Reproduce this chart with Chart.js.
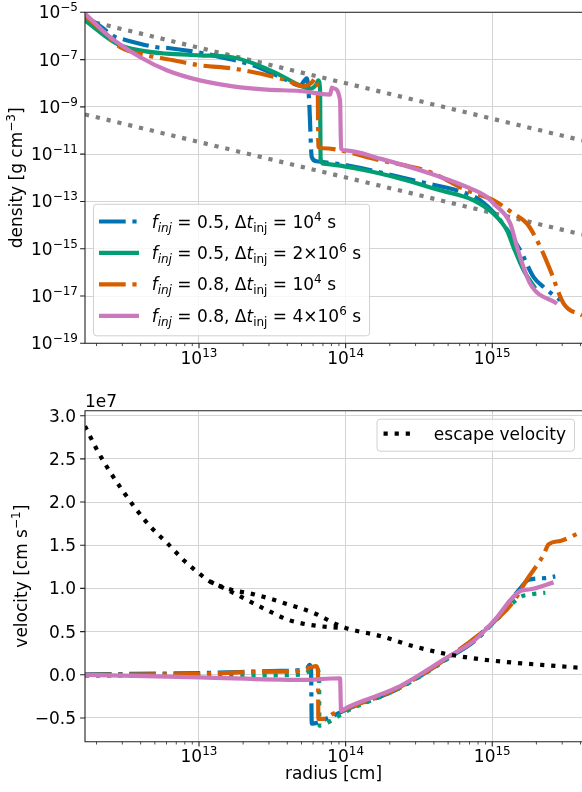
<!DOCTYPE html>
<html>
<head>
<meta charset="utf-8">
<script src="https://cdn.jsdelivr.net/npm/chart.js@4.4.0/dist/chart.umd.min.js"></script>
<style>
  html, body { margin: 0; padding: 0; background: #fff; overflow: hidden; }
  #wrap { position: relative; width: 582px; height: 792px; }
  canvas { position: absolute; left: 0; }
  #density { top: 0; }
  #velocity { top: 380px; }
</style>
</head>
<body>
<div id="wrap">
  <canvas id="density" width="582" height="380"></canvas>
  <canvas id="velocity" width="582" height="412"></canvas>
</div>
<script>
// ---- data (log10 of radius in cm) ----
const xMajor = [13, 14, 15];
const densTickExp = [-5, -7, -9, -11, -13, -15, -17, -19];
const velTicks = [-0.5, 0.0, 0.5, 1.0, 1.5, 2.0, 2.5, 3.0]; // x 1e7

const legendF = ["0.5", "0.5", "0.8", "0.8"];
const legendDtMant = ["", "2", "", "4"];
const legendDtExp = ["4", "6", "4", "6"];

// density panel: log10 rho [g cm^-3]
const dens1R = [12.222, 12.304, 12.427, 12.481, 12.713, 12.802, 13.027, 13.189, 13.369, 13.573, 13.689, 13.735, 13.751, 13.769, 13.80, 14.008, 14.463, 14.827, 14.918, 15.055, 15.191, 15.282, 15.350, 15.464];
const dens1 = [-5.20, -5.48, -6.04, -6.14, -6.48, -6.52, -6.73, -6.95, -7.24, -7.79, -8.10, -7.79, -8.72, -11.12, -11.30, -11.47, -12.11, -12.67, -12.95, -13.80, -15.07, -16.20, -16.62, -17.18];

const dens2R = [12.222, 12.438, 12.597, 12.780, 13.007, 13.234, 13.371, 13.530, 13.689, 13.758, 13.80, 13.814, 13.826, 13.829, 13.848, 14.235, 14.645, 14.872, 15.009, 15.100, 15.145, 15.214, 15.294];
const dens2 = [-5.34, -6.32, -6.61, -6.75, -6.82, -6.91, -7.16, -7.58, -8.09, -8.23, -8.05, -7.88, -8.30, -11.18, -11.40, -11.82, -12.53, -12.95, -13.52, -14.22, -14.93, -15.91, -16.68];

const dens3R = [12.222, 12.324, 12.461, 12.643, 12.825, 13.007, 13.234, 13.416, 13.599, 13.712, 13.77, 13.792, 13.810, 13.814, 13.840, 14.235, 14.577, 14.827, 15.009, 15.146, 15.237, 15.328, 15.396, 15.487, 15.614];
const dens3 = [-5.15, -5.69, -6.47, -6.82, -7.03, -7.24, -7.38, -7.59, -7.88, -8.13, -7.96, -7.80, -8.21, -10.70, -10.75, -11.26, -11.76, -12.53, -12.95, -13.52, -13.94, -14.93, -15.91, -17.32, -17.82];

const dens4R = [12.222, 12.392, 12.597, 12.780, 13.007, 13.232, 13.462, 13.689, 13.894, 13.906, 13.92, 13.962, 13.969, 13.997, 14.235, 14.577, 14.827, 14.964, 15.009, 15.123, 15.169, 15.259, 15.442];
const dens4 = [-5.05, -6.04, -6.89, -7.45, -7.88, -8.13, -8.27, -8.33, -8.48, -8.19, -8.22, -8.72, -10.77, -10.84, -11.19, -11.82, -12.39, -12.81, -13.09, -13.94, -14.93, -16.48, -17.32];

const guideR = [12.2226, 15.612];
const guideUpper = [-5.33, -10.42];
const guideLower = [-9.32, -14.40];

// velocity panel: v / 1e7 [cm s^-1]
const vel1R = [12.222, 13.007, 13.553, 13.735, 13.754, 13.764, 13.769, 13.894, 14.008, 14.349, 14.691, 14.872, 15.009, 15.191, 15.248, 15.362, 15.430];
const vel1 = [0.005, 0.02, 0.045, 0.07, 0.115, 0.07, -0.565, -0.49, -0.40, -0.17, 0.185, 0.38, 0.61, 1.0, 1.10, 1.12, 1.14];

const vel2R = [12.222, 13.007, 13.689, 13.805, 13.819, 13.821, 13.881, 14.008, 14.349, 14.691, 15.009, 15.191, 15.259, 15.362];
const vel2 = [-0.01, -0.01, 0.0, 0.07, -0.01, -0.59, -0.55, -0.42, -0.17, 0.18, 0.605, 0.90, 0.93, 0.95];

const vel3R = [12.222, 13.007, 13.416, 13.689, 13.799, 13.812, 13.814, 13.848, 13.917, 14.008, 14.349, 14.691, 15.009, 15.146, 15.228, 15.350, 15.384, 15.464, 15.614];
const vel3 = [0.0, 0.01, 0.035, 0.046, 0.10, 0.035, -0.51, -0.51, -0.45, -0.39, -0.16, 0.19, 0.61, 0.85, 1.08, 1.39, 1.51, 1.55, 1.66];

const vel4R = [12.222, 13.007, 13.689, 13.962, 13.969, 14.008, 14.349, 14.691, 14.872, 15.009, 15.191, 15.259, 15.418];
const vel4 = [0.0, -0.03, -0.06, -0.04, -0.42, -0.38, -0.15, 0.20, 0.39, 0.62, 0.97, 0.99, 1.07];

const escAR = [12.2226, 12.306, 12.386, 12.476, 12.570, 12.672, 12.786, 12.900, 13.018, 13.075, 13.21, 13.38, 13.60, 13.79, 13.93, 14.003, 14.235, 14.463, 14.691, 14.918, 15.146, 15.373, 15.612];
const escA = [2.88, 2.60, 2.37, 2.14, 1.92, 1.71, 1.52, 1.32, 1.15, 1.08, 0.99, 0.93, 0.82, 0.71, 0.59, 0.54, 0.45, 0.33, 0.24, 0.18, 0.14, 0.11, 0.08];
const escBR = [13.075, 13.21, 13.45, 13.62, 13.79, 13.98];
const escB = [1.08, 0.97, 0.76, 0.63, 0.57, 0.54];

// ---- styles ----
const FONT = '"DejaVu Sans", sans-serif';
const BLUE = "#0173B2", GREEN = "#029E73", ORANGE = "#D55E00", PINK = "#CC78BC";
const LW = 4.2;
const DASHDOT = [26.7, 6.7, 4.2, 6.7];
const DOTTED = [4.2, 6.9];

const X_MIN = Math.pow(10, 12.2226);
const X_MAX = Math.pow(10, 15.612);

function pts(logr, vals, toY) {
  return logr.map((l, i) => ({ x: Math.pow(10, l), y: toY(vals[i]) }));
}
const fromLog = (v) => Math.pow(10, v);
const from1e7 = (v) => v * 1e7;

function line(data, color, dash, order, straight) {
  return {
    data: data, borderColor: color, borderWidth: LW, borderDash: dash || [],
    pointRadius: 0, tension: 0, fill: false, order: order,
    cubicInterpolationMode: straight ? "default" : "monotone",
    borderCapStyle: "butt", borderJoinStyle: "round", clip: 0
  };
}

// ---- rich text helpers ----
function fontOf(p) { return (p.i ? "italic " : "") + (p.s || 17) + "px " + FONT; }
function richWidth(ctx, parts) {
  let w = 0;
  parts.forEach((p) => { ctx.font = fontOf(p); w += ctx.measureText(p.t).width; });
  return w;
}
function drawRich(ctx, parts, x, y, align) {
  const w = richWidth(ctx, parts);
  let cx = align === "right" ? x - w : align === "center" ? x - w / 2 : x;
  parts.forEach((p) => {
    ctx.font = fontOf(p);
    ctx.fillText(p.t, cx, y + (p.dy || 0));
    cx += ctx.measureText(p.t).width;
  });
  return w;
}
function pow10(e) {
  return [{ t: "10" }, { t: String(e).replace("-", "\u2212"), s: 12, dy: -7 }];
}
function legendParts(i) {
  return [
    { t: "f", i: true }, { t: "inj", i: true, s: 12, dy: 4 },
    { t: " = " + legendF[i] + ", " }, { t: "\u0394" }, { t: "t", i: true }, { t: "inj", s: 12, dy: 4 },
    { t: " = " + (legendDtMant[i] ? legendDtMant[i] + "\u00d7" : "") + "10" },
    { t: legendDtExp[i], s: 12, dy: -7 }, { t: " s" }
  ];
}

// ---- axes decoration: spines, ticks, labels, titles, legend ----
const deco = {
  id: "deco",
  afterDraw(chart, args, o) {
    const ctx = chart.ctx, a = chart.chartArea, xs = chart.scales.x, ys = chart.scales.y;
    ctx.save();
    ctx.strokeStyle = "#222";
    ctx.lineWidth = 1.1;
    ctx.beginPath();
    ctx.moveTo(a.right, a.top); ctx.lineTo(a.left, a.top);
    ctx.lineTo(a.left, a.bottom); ctx.lineTo(a.right, a.bottom);
    ctx.stroke();

    // x ticks
    ctx.beginPath();
    xMajor.forEach((e) => {
      const px = xs.getPixelForValue(Math.pow(10, e));
      ctx.moveTo(px, a.bottom); ctx.lineTo(px, a.bottom + 4.9);
    });
    ctx.stroke();
    ctx.lineWidth = 0.8;
    ctx.beginPath();
    for (let n = 12; n <= 15; n++) {
      for (let k = 2; k <= 9; k++) {
        const v = k * Math.pow(10, n);
        if (v < X_MIN || v > X_MAX) continue;
        const px = xs.getPixelForValue(v);
        ctx.moveTo(px, a.bottom); ctx.lineTo(px, a.bottom + 2.8);
      }
    }
    ctx.stroke();

    // y ticks
    ctx.lineWidth = 1.1;
    ctx.beginPath();
    o.yValues.forEach((v) => {
      const py = ys.getPixelForValue(v);
      ctx.moveTo(a.left - 4.9, py); ctx.lineTo(a.left, py);
    });
    ctx.stroke();

    ctx.fillStyle = "#000";
    ctx.textBaseline = "alphabetic";
    xMajor.forEach((e) => {
      drawRich(ctx, pow10(e), xs.getPixelForValue(Math.pow(10, e)), a.bottom + 20.5, "center");
    });
    o.yValues.forEach((v, i) => {
      drawRich(ctx, o.yLabels[i], a.left - o.labelGap, ys.getPixelForValue(v) + 6, "right");
    });

    // y title
    ctx.save();
    ctx.translate(o.yTitleX, (a.top + a.bottom) / 2);
    ctx.rotate(-Math.PI / 2);
    drawRich(ctx, o.yTitle, 0, 0, "center");
    ctx.restore();

    if (o.xTitle) drawRich(ctx, o.xTitle, (a.left + a.right) / 2, a.bottom + 37.5, "center");
    if (o.offsetText) drawRich(ctx, [{ t: o.offsetText }], a.left, a.top - 3.5, "left");

    if (o.legend) o.legend(ctx, a);
    ctx.restore();
  }
};

function legendBox(ctx, x, y, w, h) {
  const r = 3;
  ctx.beginPath();
  ctx.moveTo(x + r, y); ctx.lineTo(x + w - r, y); ctx.arcTo(x + w, y, x + w, y + r, r);
  ctx.lineTo(x + w, y + h - r); ctx.arcTo(x + w, y + h, x + w - r, y + h, r);
  ctx.lineTo(x + r, y + h); ctx.arcTo(x, y + h, x, y + h - r, r);
  ctx.lineTo(x, y + r); ctx.arcTo(x, y, x + r, y, r);
  ctx.closePath();
  ctx.fillStyle = "rgba(255,255,255,0.8)";
  ctx.fill();
  ctx.strokeStyle = "#d0d0d0";
  ctx.lineWidth = 1;
  ctx.stroke();
}
function handle(ctx, x0, x1, y, color, dash) {
  ctx.save();
  ctx.strokeStyle = color; ctx.lineWidth = LW; ctx.lineCap = "butt";
  ctx.setLineDash(dash || []);
  ctx.beginPath(); ctx.moveTo(x0, y); ctx.lineTo(x1, y); ctx.stroke();
  ctx.restore();
}

const densLegend = (ctx, a) => {
  const colors = [BLUE, GREEN, ORANGE, PINK];
  const dashes = [DASHDOT, null, DASHDOT, null];
  let maxW = 0;
  for (let i = 0; i < 4; i++) maxW = Math.max(maxW, richWidth(ctx, legendParts(i)));
  const h = 131.5, x = a.left + 8, y = a.bottom - 8 - h;
  const w = 58.7 + maxW + 8;
  legendBox(ctx, x + 0.5, y + 0.5, w, h);
  ctx.fillStyle = "#000";
  for (let i = 0; i < 4; i++) {
    const cy = y + 17.7 + i * 31.45;
    handle(ctx, x + 6, x + 46, cy, colors[i], dashes[i]);
    drawRich(ctx, legendParts(i), x + 58.7, cy + 6, "left");
  }
};

const velLegend = (ctx, a) => {
  ctx.font = "17px " + FONT;
  const tw = ctx.measureText("escape velocity").width;
  const w = 57.3 + tw + 8, h = 32;
  const x = a.right - 8 - w, y = a.top + 8;
  legendBox(ctx, x + 0.5, y + 0.5, w, h);
  handle(ctx, x + 7, x + 37, y + 15, "#000", DOTTED);
  ctx.fillStyle = "#000";
  drawRich(ctx, [{ t: "escape velocity" }], x + 57.3, y + 21.5, "left");
};

function options(pad, yScale, deco) {
  return {
    responsive: false, animation: false, events: [],
    layout: { padding: pad, autoPadding: false },
    plugins: { legend: { display: false }, tooltip: { enabled: false }, deco: deco },
    scales: {
      x: {
        type: "logarithmic", min: X_MIN, max: X_MAX,
        ticks: { display: false },
        grid: { color: "#d4d4d4", lineWidth: 1, drawTicks: false },
        border: { display: false },
        afterBuildTicks: (s) => { s.ticks = xMajor.map((e) => ({ value: Math.pow(10, e) })); },
        afterFit: (s) => { s.height = 0; }
      },
      y: yScale
    }
  };
}

// ---- density chart ----
const densTickValues = densTickExp.map((e) => Math.pow(10, e));
new Chart(document.getElementById("density"), {
  type: "line",
  data: {
    datasets: [
      line(pts(dens4R, dens4, fromLog), PINK, null, 1),
      line(pts(dens3R, dens3, fromLog), ORANGE, DASHDOT, 2),
      line(pts(dens2R, dens2, fromLog), GREEN, null, 3),
      line(pts(dens1R, dens1, fromLog), BLUE, DASHDOT, 4),
      line(pts(guideR, guideUpper, fromLog), "#808080", DOTTED, 5, true),
      line(pts(guideR, guideLower, fromLog), "#808080", DOTTED, 5, true)
    ]
  },
  options: options({ left: 85, top: 12.3, right: 0, bottom: 36.7 }, {
    type: "logarithmic", min: 1e-19, max: 1e-5,
    ticks: { display: false },
    grid: { color: "#d4d4d4", lineWidth: 1, drawTicks: false },
    border: { display: false },
    afterBuildTicks: (s) => { s.ticks = densTickValues.map((v) => ({ value: v })); },
    afterFit: (s) => { s.width = 0; }
  }, {
    yValues: densTickValues,
    yLabels: densTickExp.map(pow10),
    labelGap: 7,
    yTitleX: 21.5,
    yTitle: [{ t: "density [g cm" }, { t: "\u22123", s: 12, dy: -7 }, { t: "]" }],
    legend: densLegend
  }),
  plugins: [deco]
});

// ---- velocity chart ----
const velTickValues = velTicks.map(from1e7);
new Chart(document.getElementById("velocity"), {
  type: "line",
  data: {
    datasets: [
      line(pts(escAR, escA, from1e7), "#000", DOTTED, 0),
      line(pts(escBR, escB, from1e7), "#000", DOTTED, 0),
      line(pts(vel4R, vel4, from1e7), PINK, null, 1),
      line(pts(vel3R, vel3, from1e7), ORANGE, DASHDOT, 2),
      line(pts(vel2R, vel2, from1e7), GREEN, DOTTED, 3),
      line(pts(vel1R, vel1, from1e7), BLUE, DASHDOT, 4)
    ]
  },
  options: options({ left: 85, top: 30.7, right: 0, bottom: 50.3 }, {
    type: "linear", min: -0.775e7, max: 3.058e7,
    ticks: { display: false },
    grid: { color: "#d4d4d4", lineWidth: 1, drawTicks: false },
    border: { display: false },
    afterBuildTicks: (s) => { s.ticks = velTickValues.map((v) => ({ value: v })); },
    afterFit: (s) => { s.width = 0; }
  }, {
    yValues: velTickValues,
    yLabels: velTicks.map((v) => [{ t: v.toFixed(1).replace("-", "\u2212") }]),
    labelGap: 9,
    yTitleX: 26.5,
    yTitle: [{ t: "velocity [cm s" }, { t: "\u22121", s: 12, dy: -7 }, { t: "]" }],
    xTitle: [{ t: "radius [cm]" }],
    offsetText: "1e7",
    legend: velLegend
  }),
  plugins: [deco]
});
</script>
</body>
</html>
